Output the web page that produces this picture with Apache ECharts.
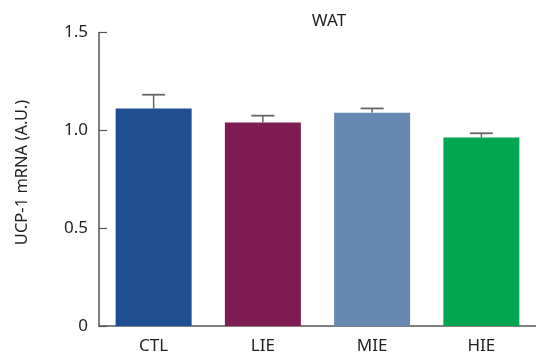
<!DOCTYPE html>
<html><head><meta charset="utf-8">
<script src="https://cdn.jsdelivr.net/npm/echarts@6/dist/echarts.min.js"></script>
<style>html,body{margin:0;padding:0;background:#fff}#c{width:536px;height:355px}</style>
</head><body><div id="c"></div>
<script>
const categories = ['CTL', 'LIE', 'MIE', 'HIE'];
const values = [1.111, 1.040, 1.090, 0.963];
const errors = [0.071, 0.035, 0.022, 0.022];
const colors = ['#1f4e93', '#7f1c53', '#6587b0', '#00a650'];
const yTicks = [0, 0.5, 1.0, 1.5];
const titleText = 'WAT';
const yName = 'UCP-1 mRNA (A.U.)';

const chart = echarts.init(document.getElementById('c'));
const font = '"Noto Sans", "Open Sans", sans-serif';
chart.setOption({
  animation: false,
  title: { text: titleText, left: 324, top: 8, textAlign: 'center',
    textStyle: { fontFamily: font, fontSize: 17, fontWeight: 'normal', color: '#231f20' } },
  graphic: [{
    type: 'text', x: 22.5, y: 172.5, rotation: Math.PI / 2,
    style: { text: yName, fontFamily: font, fontSize: 16.5, fill: '#231f20',
      textAlign: 'center', textVerticalAlign: 'middle' }
  }],
  grid: { left: 99, top: 32.5, width: 440.5, bottom: 27.5 },
  xAxis: {
    type: 'category', data: categories,
    axisLine: { lineStyle: { color: '#555', width: 1.5 } },
    axisTick: { show: false },
    axisLabel: { fontFamily: font, fontSize: 17, color: '#231f20', margin: 12 }
  },
  yAxis: {
    type: 'value', min: 0, max: 1.5, interval: 0.5,
    axisLine: { show: true, lineStyle: { color: '#555', width: 1.5 } },
    axisTick: { show: true, inside: true, length: 8, lineStyle: { color: '#555', width: 1.2 } },
    splitLine: { show: false },
    axisLabel: { fontFamily: font, fontSize: 17, color: '#231f20', margin: 11,
      formatter: v => yTicks.indexOf(v) >= 0 ? (v === 0 ? '0' : v.toFixed(1)) : '' }
  },
  series: [
    {
      type: 'bar', barWidth: 76,
      data: values.map((v, i) => ({ value: v, itemStyle: { color: colors[i] } }))
    },
    {
      type: 'custom', z: 5,
      data: values.map((v, i) => [i, v, v + errors[i]]),
      renderItem: function (params, api) {
        const base = api.coord([api.value(0), api.value(1)]);
        const top = api.coord([api.value(0), api.value(2)]);
        const hw = 11.5;
        return { type: 'group', children: [
          { type: 'line', shape: { x1: base[0], y1: base[1], x2: top[0], y2: top[1] },
            style: { stroke: '#666', lineWidth: 1.5 } },
          { type: 'line', shape: { x1: top[0] - hw, y1: top[1], x2: top[0] + hw, y2: top[1] },
            style: { stroke: '#666', lineWidth: 1.8 } }
        ] };
      }
    }
  ]
});
</script></body></html>
